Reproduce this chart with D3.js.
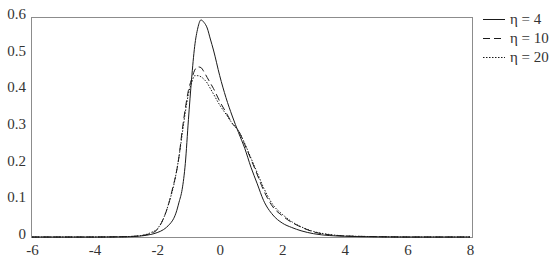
<!DOCTYPE html>
<html lang="en">
<head>
	<meta charset="UTF-8">
	<title>Density curves for several eta</title>
	<script src="https://d3js.org/d3.v7.min.js"></script>
	<style>
		body {
			margin: 0;
			background: #fff;
		}

		svg {
			display: block;
		}

		.frame {
			fill: none;
			stroke: #8c8c8c;
			stroke-width: 1px;
		}

		.curve {
			fill: none;
			stroke: #1a1a1a;
			stroke-width: 1px;
		}
	</style>
</head>

<body>
	<script>
		// x grid the curves were read on
		var xs = [-6, -4, -3, -2.5, -2.2, -2, -1.8, -1.6, -1.5, -1.4, -1.3, -1.2, -1.1, -1, -0.9, -0.8, -0.7, -0.6, -0.5, -0.4, -0.3, -0.2, 0, 0.2, 0.4, 0.6, 0.8, 1, 1.2, 1.4, 1.7, 2, 2.3, 2.6, 3, 3.5, 4, 5, 6, 8];

		var eta4 = [0, 0, 0.0005, 0.003, 0.007, 0.012, 0.02, 0.035, 0.046, 0.065, 0.095, 0.13, 0.2, 0.32, 0.43, 0.52, 0.57, 0.592, 0.585, 0.57, 0.54, 0.51, 0.44, 0.38, 0.33, 0.285, 0.242, 0.19, 0.145, 0.1, 0.06, 0.038, 0.026, 0.017, 0.009, 0.004, 0.002, 0.0005, 0, 0];
		var eta10 = [0, 0, 0.001, 0.004, 0.01, 0.02, 0.05, 0.1, 0.135, 0.17, 0.22, 0.29, 0.35, 0.4, 0.43, 0.455, 0.464, 0.462, 0.45, 0.435, 0.42, 0.405, 0.37, 0.34, 0.31, 0.29, 0.252, 0.212, 0.17, 0.128, 0.082, 0.058, 0.04, 0.027, 0.014, 0.006, 0.003, 0.001, 0, 0];
		var eta20 = [0, 0, 0.001, 0.004, 0.012, 0.022, 0.05, 0.1, 0.13, 0.17, 0.22, 0.28, 0.34, 0.39, 0.42, 0.44, 0.44, 0.437, 0.43, 0.42, 0.405, 0.39, 0.36, 0.335, 0.31, 0.29, 0.255, 0.215, 0.175, 0.135, 0.088, 0.062, 0.042, 0.028, 0.015, 0.007, 0.003, 0.001, 0, 0];

		var seriesNames = ["η = 4", "η = 10", "η = 20"];
		var seriesDash = [null, "7,4", "1.5,1.5"];
		var seriesValues = [eta4, eta10, eta20];

		var xTicks = [-6, -4, -2, 0, 2, 4, 6, 8];
		var yTicks = [0, 0.1, 0.2, 0.3, 0.4, 0.5, 0.6];

		const width = 555;
		const height = 261;
		const plotLeft = 31;
		const plotRight = 472;
		const plotTop = 17;
		const plotBottom = 237;
		const textFont = "'Liberation Serif', 'Times New Roman', 'DejaVu Serif', serif";
		const textSize = "15px";

		var x = d3.scaleLinear().domain([-6, 8]).range([plotLeft + 1, plotRight - 2]);
		var y = d3.scaleLinear().domain([0, 0.6]).range([plotBottom, plotTop]);

		var svg = d3.select("body")
			.append("svg")
			.attr("width", width)
			.attr("height", height);

		// frame round the plot
		svg.append("rect")
			.attr("class", "frame")
			.attr("x", plotLeft + 0.5)
			.attr("y", plotTop + 0.5)
			.attr("width", plotRight - plotLeft)
			.attr("height", plotBottom - plotTop);

		// axes without tick marks, only labels (plain hyphen for negatives)
		var xAxis = svg.append("g")
			.attr("transform", "translate(0," + plotBottom + ")")
			.call(d3.axisBottom(x).tickValues(xTicks).tickSize(0).tickPadding(7).tickFormat(function (d) { return String(d); }));

		var yAxis = svg.append("g")
			.attr("transform", "translate(" + plotLeft + ",0)")
			.call(d3.axisLeft(y).tickValues(yTicks).tickSize(0).tickPadding(5).tickFormat(function (d) { return d === 0 ? "0" : d.toFixed(1); }));

		[xAxis, yAxis].forEach(function (a) {
			a.select(".domain").remove();
			a.selectAll("text")
				.style("font-family", textFont)
				.style("font-size", textSize)
				.attr("fill", "#333");
		});
		yAxis.selectAll("text").attr("dy", "0.1em");

		var line = d3.line()
			.x(function (d) { return x(d[0]); })
			.y(function (d) { return y(d[1]); })
			.curve(d3.curveMonotoneX);

		seriesValues.forEach(function (vals, i) {
			svg.append("path")
				.attr("class", "curve")
				.attr("stroke-dasharray", seriesDash[i])
				.attr("d", line(xs.map(function (v, k) { return [v, vals[k]]; })));
		});

		// legend on the right
		var legend = svg.append("g")
			.attr("transform", "translate(483,19)");

		var item = legend.selectAll("g")
			.data(seriesNames)
			.enter()
			.append("g")
			.attr("transform", function (d, i) { return "translate(0," + (i * 19) + ")"; });

		item.append("line")
			.attr("class", "curve")
			.attr("x1", 0)
			.attr("x2", 22)
			.attr("y1", 0.5)
			.attr("y2", 0.5)
			.attr("stroke-dasharray", function (d, i) { return seriesDash[i]; });

		item.append("text")
			.attr("x", 27)
			.attr("y", 5)
			.style("font-family", textFont)
			.style("font-size", textSize)
			.attr("fill", "#333")
			.text(function (d) { return d; });
	</script>
</body>
</html>
